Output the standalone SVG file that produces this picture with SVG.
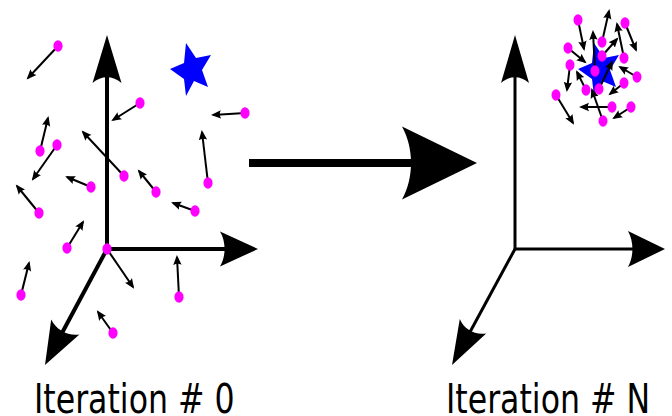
<svg xmlns="http://www.w3.org/2000/svg" width="672" height="416" viewBox="0 0 672 416">
<style>
.ax{stroke:#000;fill:none;stroke-linecap:butt}
.head{fill:#000;stroke:none}
.v{stroke:#000;stroke-width:2;fill:none;marker-end:url(#mh)}
.p{fill:#ff00ff;stroke:none}
.star{fill:#0000ff;stroke:none}
.lbl{font-family:"DejaVu Sans",sans-serif;font-size:40px;fill:#000}
</style>
<defs>
<marker id="mh" markerUnits="userSpaceOnUse" viewBox="0 -5 11 10" markerWidth="11" markerHeight="10" refX="8" refY="0" orient="auto">
<path d="M0,-4.2 L10,0 L0,4.2 C1.6,1.5 1.6,-1.5 0,-4.2 Z" fill="#000"/>
</marker>
<polygon id="starshape" points="186,43 196,58 211,55 202,70 208,87 194,81 186,96 184,79 170,69 184,63"/>
</defs>

<rect width="672" height="416" fill="#fff"/>

<g id="axes-left">
<path class="ax" stroke-width="4" d="M107,249 V77"/>
<path class="head" d="M107,35 L121.5,83 C112.9,75.3 101.1,75.3 92.5,83 Z"/>
<path class="ax" stroke-width="4" d="M107,249 H226"/>
<path class="head" d="M258,249 L220,266.5 C226.1,256.2 226.1,241.8 220,231.5 Z"/>
<path class="ax" stroke-width="4" d="M107,249 L62,333"/>
<path class="head" d="M45,365 L79.4,334.6 C67.8,336.2 56.2,330 51.2,319.6 Z"/>
</g>

<g id="target-left">
<use href="#starshape" class="star"/>
</g>

<g id="particles-left">
<path class="v" d="M58,46 L28,78"/>
<path class="v" d="M140,103 L113,120"/>
<path class="v" d="M245,113 L213,115"/>
<path class="v" d="M208,183 L202,132"/>
<path class="v" d="M40,151 L48,118"/>
<path class="v" d="M57,145 L33,179"/>
<path class="v" d="M124,176 L83,132"/>
<path class="v" d="M91,187 L67,177"/>
<path class="v" d="M39,213 L17,186"/>
<path class="v" d="M156,192 L139,171"/>
<path class="v" d="M195,211 L173,203"/>
<path class="v" d="M67,248 L83,222"/>
<path class="v" d="M107,249 L133,287"/>
<path class="v" d="M21,295 L29,263"/>
<path class="v" d="M179,297 L177,257"/>
<path class="v" d="M113,333 L98,312"/>
<ellipse class="p" cx="58" cy="46" rx="4.6" ry="5.8"/>
<ellipse class="p" cx="140" cy="103" rx="4.6" ry="5.8"/>
<ellipse class="p" cx="245" cy="113" rx="4.6" ry="5.8"/>
<ellipse class="p" cx="208" cy="183" rx="4.6" ry="5.8"/>
<ellipse class="p" cx="40" cy="151" rx="4.6" ry="5.8"/>
<ellipse class="p" cx="57" cy="145" rx="4.6" ry="5.8"/>
<ellipse class="p" cx="124" cy="176" rx="4.6" ry="5.8"/>
<ellipse class="p" cx="91" cy="187" rx="4.6" ry="5.8"/>
<ellipse class="p" cx="39" cy="213" rx="4.6" ry="5.8"/>
<ellipse class="p" cx="156" cy="192" rx="4.6" ry="5.8"/>
<ellipse class="p" cx="195" cy="211" rx="4.6" ry="5.8"/>
<ellipse class="p" cx="67" cy="248" rx="4.6" ry="5.8"/>
<ellipse class="p" cx="107" cy="249" rx="4.6" ry="5.8"/>
<ellipse class="p" cx="21" cy="295" rx="4.6" ry="5.8"/>
<ellipse class="p" cx="179" cy="297" rx="4.6" ry="5.8"/>
<ellipse class="p" cx="113" cy="333" rx="4.6" ry="5.8"/>
</g>

<g id="axes-right">
<path class="ax" stroke-width="3" d="M515,249 V77"/>
<path class="head" d="M515,35 L529,83 C520.7,75.3 509.3,75.3 501,83 Z"/>
<path class="ax" stroke-width="3" d="M515,249 H634"/>
<path class="head" d="M665,249 L628,267 C633.9,256.4 633.9,241.6 628,231 Z"/>
<path class="ax" stroke-width="3" d="M515,249 L470,332"/>
<path class="head" d="M452,365 L486.2,333.5 C475,335.4 464.2,329.6 459.8,319.1 Z"/>
</g>

<g id="target-right">
<use href="#starshape" class="star" transform="translate(408,0)"/>
</g>

<g id="particles-right">
<path class="v" d="M578,20 L584,49"/>
<path class="v" d="M625,23 L636,50"/>
<path class="v" d="M602,42 L609,11"/>
<path class="v" d="M568,48 L585,62"/>
<path class="v" d="M570,65 L567,90"/>
<path class="v" d="M624,58 L617,24"/>
<path class="v" d="M602,56 L617,39"/>
<path class="v" d="M595,71 L593,32"/>
<path class="v" d="M637,77 L620,67"/>
<path class="v" d="M586,90 L577,72"/>
<path class="v" d="M599,89 L612,62"/>
<path class="v" d="M624,83 L610,94"/>
<path class="v" d="M556,95 L573,123"/>
<path class="v" d="M612,107 L581,107"/>
<path class="v" d="M631,107 L614,118"/>
<path class="v" d="M603,121 L592,90"/>
<ellipse class="p" cx="578" cy="20" rx="4.5" ry="5.7"/>
<ellipse class="p" cx="625" cy="23" rx="4.5" ry="5.7"/>
<ellipse class="p" cx="602" cy="42" rx="4.5" ry="5.7"/>
<ellipse class="p" cx="568" cy="48" rx="4.5" ry="5.7"/>
<ellipse class="p" cx="570" cy="65" rx="4.5" ry="5.7"/>
<ellipse class="p" cx="624" cy="58" rx="4.5" ry="5.7"/>
<ellipse class="p" cx="602" cy="56" rx="4.5" ry="5.7"/>
<ellipse class="p" cx="595" cy="71" rx="4.5" ry="5.7"/>
<ellipse class="p" cx="637" cy="77" rx="4.5" ry="5.7"/>
<ellipse class="p" cx="586" cy="90" rx="4.5" ry="5.7"/>
<ellipse class="p" cx="599" cy="89" rx="4.5" ry="5.7"/>
<ellipse class="p" cx="624" cy="83" rx="4.5" ry="5.7"/>
<ellipse class="p" cx="556" cy="95" rx="4.5" ry="5.7"/>
<ellipse class="p" cx="612" cy="107" rx="4.5" ry="5.7"/>
<ellipse class="p" cx="631" cy="107" rx="4.5" ry="5.7"/>
<ellipse class="p" cx="603" cy="121" rx="4.5" ry="5.7"/>
</g>

<g id="connectors">
<path class="ax" stroke-width="8" d="M249,163 H412"/>
<path class="head" d="M477,163 L402,199.5 C414,178 414,148 402,126.5 Z"/>
</g>

<g id="labels">
<text class="lbl" transform="translate(34,413) scale(0.79,1)">Iteration # 0</text>
<text class="lbl" transform="translate(446,413) scale(0.79,1)">Iteration # N</text>
</g>
</svg>
